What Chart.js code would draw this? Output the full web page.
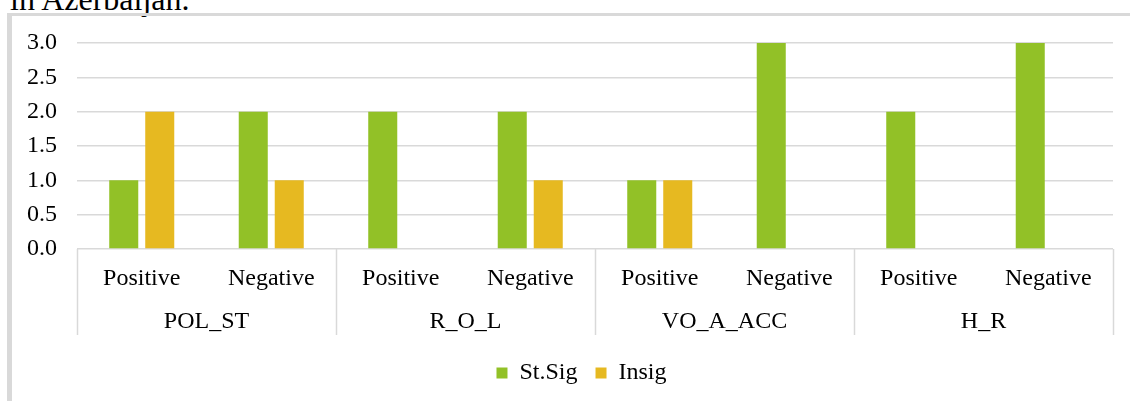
<!DOCTYPE html>
<html>
<head>
<meta charset="utf-8">
<script src="https://cdn.jsdelivr.net/npm/chart.js@4"></script>
<style>
  html, body { margin: 0; background: #fff; overflow: hidden; }
  #wrap { position: relative; width: 1130px; height: 401px; overflow: hidden; }
  #caption { position: absolute; left: 10px; top: -17px; font: 32px "Liberation Serif", serif; line-height: 32px; color: #000; white-space: nowrap; }
  #frameTop { position: absolute; left: 7px; top: 13px; width: 1123px; height: 3px; background: #d9d9d9; }
  #frameLeft { position: absolute; left: 7px; top: 13px; width: 5px; height: 388px; background: #d9d9d9; }
  #box { position: absolute; left: 0; top: 0; width: 1130px; height: 401px; }
</style>
</head>
<body>
<div id="wrap">
  <div id="caption">in Azerbaijan.</div>
  <div id="frameTop"></div>
  <div id="frameLeft"></div>
  <div id="box"><canvas id="chart"></canvas></div>
</div>
<script>
// chart data
const groups = ["POL_ST", "R_O_L", "VO_A_ACC", "H_R"];
const signs = ["Positive", "Negative"];
const stSig = [1, 2, 2, 2, 1, 3, 2, 3];
const insig = [2, 1, 0, 1, 1, 0, 0, 0];

const labels = groups.flatMap(() => signs);
const serif = "'Liberation Serif', 'Times New Roman', serif";

// group labels + separators under the x axis, legend nudged right
const groupAxis = {
  id: "groupAxis",
  afterLayout(chart) {
    chart.legend.left += 25;
    chart.legend.right += 25;
  },
  afterDraw(chart) {
    const x = chart.scales.x;
    const ctx = chart.ctx;
    const step = (x.right - x.left) / labels.length;
    ctx.save();
    ctx.strokeStyle = "#d9d9d9";
    ctx.lineWidth = 1.5;
    for (let i = 0; i <= groups.length; i++) {
      const px = Math.round(x.left + i * signs.length * step) + 0.5;
      ctx.beginPath();
      ctx.moveTo(px, x.top);
      ctx.lineTo(px, x.top + 86);
      ctx.stroke();
    }
    ctx.fillStyle = "#000";
    ctx.font = "24px " + serif;
    ctx.textAlign = "center";
    ctx.textBaseline = "middle";
    groups.forEach((g, i) => {
      const cx = x.left + (i + 0.5) * signs.length * step;
      ctx.fillText(g, cx, x.top + 73);
    });
    ctx.restore();
  }
};

new Chart(document.getElementById("chart"), {
  type: "bar",
  data: {
    labels: labels,
    datasets: [
      { label: "St.Sig", data: stSig, backgroundColor: "#92c127" },
      { label: "Insig", data: insig, backgroundColor: "#e6b921" }
    ]
  },
  options: {
    responsive: true,
    maintainAspectRatio: false,
    animation: false,
    datasets: { bar: { barPercentage: 0.806, categoryPercentage: 0.556 } },
    layout: { padding: { left: 0, right: 17, top: 43, bottom: 6 } },
    scales: {
      x: {
        grid: { display: false, drawTicks: false },
        border: { display: false },
        ticks: { color: "#000", font: { family: serif, size: 24 }, padding: 15, maxRotation: 0, autoSkip: false },
        afterFit(s) { s.height = 94; }
      },
      y: {
        min: 0,
        max: 3,
        grid: { color: "#d9d9d9", lineWidth: 1.5, drawTicks: false },
        border: { display: false },
        ticks: { stepSize: 0.5, color: "#000", font: { family: serif, size: 24 }, padding: 20, callback: v => v.toFixed(1) },
        afterFit(s) { s.width = 77; }
      }
    },
    plugins: {
      legend: {
        position: "bottom",
        labels: { boxWidth: 11, boxHeight: 11, color: "#000", font: { family: serif, size: 24 }, padding: 18 }
      },
      tooltip: { enabled: false }
    }
  },
  plugins: [groupAxis]
});
</script>
</body>
</html>
